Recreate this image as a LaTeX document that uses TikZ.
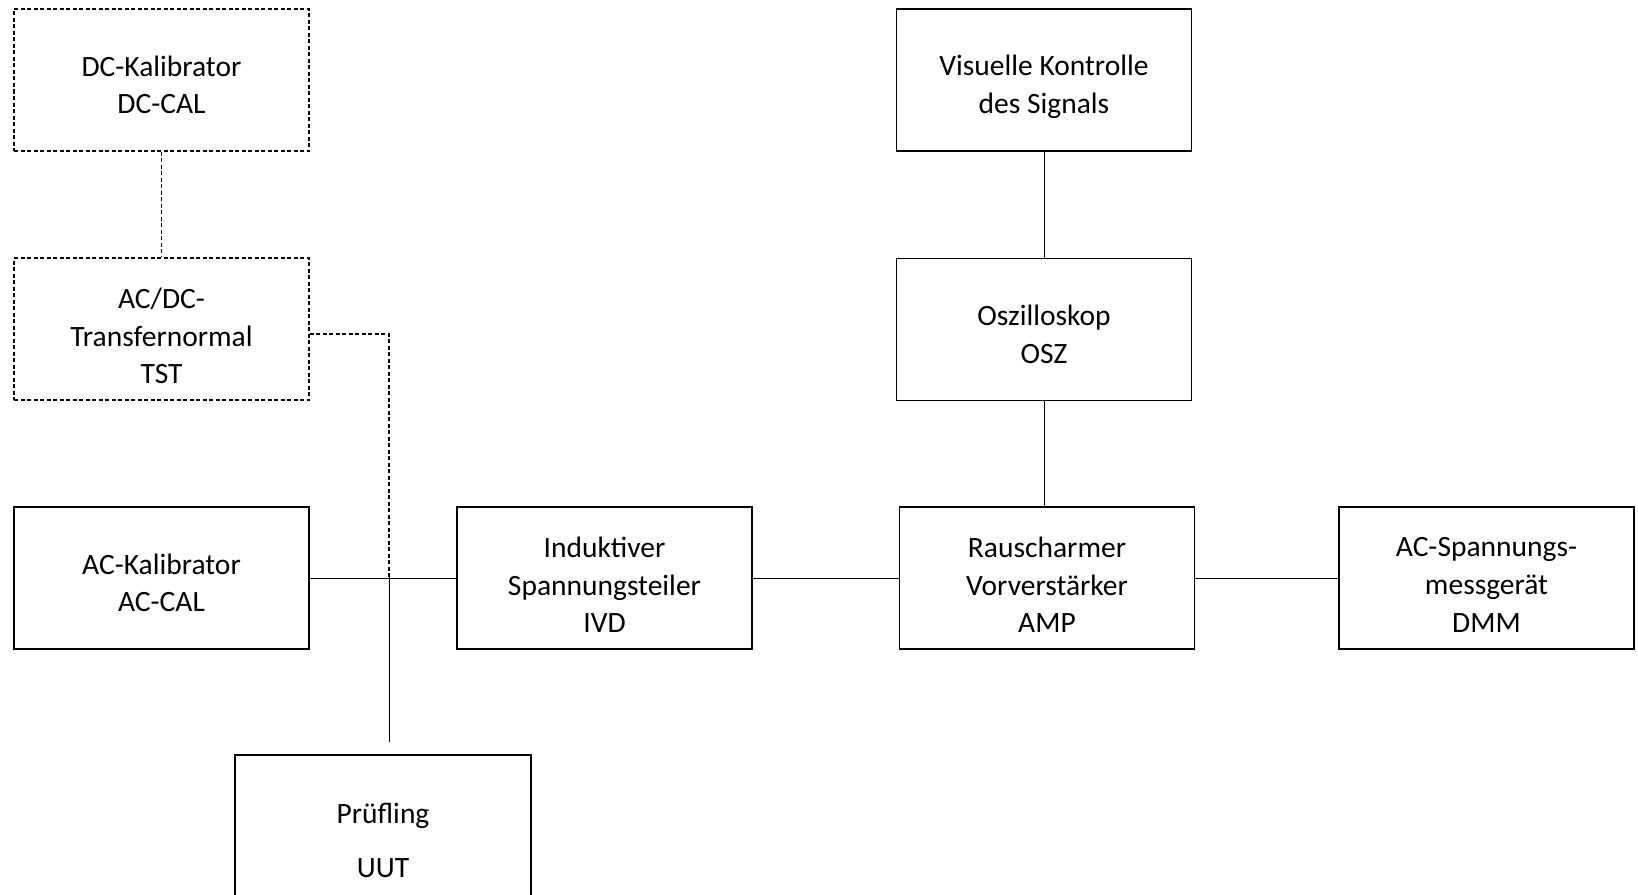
\documentclass[tikz,border=0pt]{standalone}
\usepackage{fontspec}
\setmainfont{Carlito}
\begin{document}
\begin{tikzpicture}[x=1pt,y=-1pt,
  blk/.style={draw,line width=1.1pt,minimum width=295pt,minimum height=142pt,inner sep=0pt},
  dblk/.style={blk,dash pattern=on 4pt off 2.5pt,line width=1.3pt},
  lbl/.style={align=center,font=\fontsize{29.5}{37.6}\selectfont,yshift=-5pt},
  conn/.style={line width=1pt},
  dconn/.style={line width=1.3pt,dash pattern=on 4pt off 2.5pt}]
\useasboundingbox (0,0) rectangle (1638,894);
\clip (0,0) rectangle (1638,894);
\node[dblk,label={[lbl]center:{DC-Kalibrator\\DC-CAL}}] (dccal) at (161.5,80) {};
\node[dblk,label={[lbl,yshift=-2pt]center:{AC/DC-\\Transfernormal\\TST}}] (tst) at (161.5,329) {};
\node[blk,label={[lbl]center:{AC-Kalibrator\\AC-CAL}}] (accal) at (161.5,578) {};
\node[blk,label={[lbl,yshift=-2pt]center:{Induktiver\\Spannungsteiler\\IVD}}] (ivd) at (604.5,578) {};
\node[blk,label={[lbl,yshift=-2pt]center:{Rauscharmer\\Vorverstärker\\AMP}}] (amp) at (1047,578) {};
\node[blk,label={[lbl,yshift=-2pt]center:{AC-Spannungs-\\messgerät\\DMM}}] (dmm) at (1486.5,578) {};
\node[blk,label={[lbl]center:{Oszilloskop\\OSZ}}] (osz) at (1044,329.5) {};
\node[blk,label={[lbl,yshift=-2pt]center:{Visuelle Kontrolle\\des Signals}}] (vis) at (1044,80) {};
\node[blk,minimum width=296pt,minimum height=170pt,align=center,font=\fontsize{29.5}{54}\selectfont] (uut) at (383,840) {Prüfling\\UUT};
\coordinate (j) at (389,577);
\coordinate (uend) at (389,742);
\draw[dconn] (dccal.south) -- (tst.north);
\draw[dconn] ([yshift=-5pt]tst.east) -| (j);
\draw[conn] (j) -- (uend);
\draw[conn] (accal.east) -- (ivd.west);
\draw[conn] (ivd.east) -- (amp.west);
\draw[conn] (amp.east) -- (dmm.west);
\draw[conn] (vis.south) -- (osz.north);
\draw[conn] (osz.south) -- (osz.south |- amp.north);
\end{tikzpicture}
\end{document}
